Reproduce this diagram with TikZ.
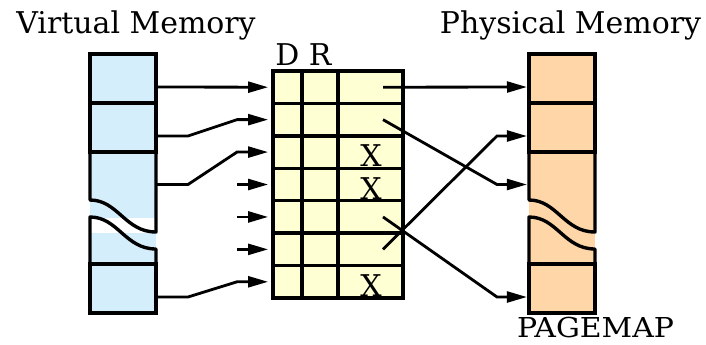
\documentclass[tikz,border=0pt]{standalone}
\usepackage{fontspec}
\setmainfont{DejaVu Serif}
\usetikzlibrary{%
	calc,%
	arrows.meta,%
	positioning,%
}
\definecolor{cvirt}{RGB}{213, 238, 252}
\definecolor{cphys}{RGB}{255, 214, 168}
\definecolor{cmap}{RGB}{255, 255, 212}
\newcommand{\pxu}{0.025cm}
\tikzset{
	>={Triangle[length=0.5cm,width=0.27cm]},%
	box/.style={%
			draw,%
			line width=2.4pt,%
			line join=round},%
	memcell/.style={%
			draw,%
			rectangle,%
			line width=2.4pt,%
			inner sep=0,%
			outer sep=0,%
			minimum width=66*\pxu,%
			minimum height=49*\pxu},%
	mapcell/.style={%
			draw,%
			rectangle,%
			fill=cmap,%
			line width=2.4pt,%
			inner sep=0,%
			outer sep=0,%
			minimum height=32.43*\pxu},%
	label/.style={%
			anchor=base,%
			inner sep=0,%
			outer sep=0},%
	arr/.style={%
			->,%
			line width=2pt,%
			shorten >=0.12cm},%
	arrin/.style={%
			->,%
			line width=2pt,%
			shorten >=0.05cm},%
}

\begin{document}
\begin{tikzpicture}[x=\pxu, y=-\pxu, nodes={font={\fontsize{21.3}{24}\selectfont}}]%
	\useasboundingbox (0,0) rectangle (706,344);

	% virtual memory
	\fill[cvirt] (90,54) rectangle (156,313);
	\fill[white] (90,218) rectangle (156,233);
	\node[memcell] (vm1) at (123,78.5) {};
	\node[memcell] (vm2) at (123,127.5) {};
	\node[memcell, draw=none] (vm3) at (123,176) {};
	\node[memcell, draw=none] (vm4) at (123,240) {};
	\node[memcell] (vm5) at (123,288.5) {};
	\draw[box] (vm3.north west) -- (90,200) .. controls (118,200) and (125,232) .. (156,232) -- (vm3.north east);
	\draw[box] (vm4.south west) -- (90,217) .. controls (118,217) and (125,249) .. (156,249) -- (vm4.south east);
	\node[label] (vmlabel) at (136,33) {Virtual Memory};

	% physical memory
	\fill[cphys] (529,54) rectangle (595,313);
	\node[memcell] (pm1) at (562,78.5) {};
	\node[memcell] (pm2) at (562,127.5) {};
	\node[memcell, draw=none] (pm3) at (562,176) {};
	\node[memcell, draw=none] (pm4) at (562,240) {};
	\node[memcell] (pm5) at (562,288.5) {};
	\draw[box] (pm3.north west) -- (529,200) .. controls (557,200) and (564,232) .. (595,232) -- (pm3.north east);
	\draw[box] (pm4.south west) -- (529,217) .. controls (557,217) and (564,249) .. (595,249) -- (pm4.south east);
	\node[label] (pmlabel) at (570.5,33) {Physical Memory};
	\node[label, xscale=1.09, font={\fontsize{19.5}{22}\selectfont}] (pagemap) at (595.5,337.5) {PAGEMAP};

	% page map
	\foreach \i in {1,...,7} {
		\node[mapcell, minimum width=29*\pxu] (d\i) at (287.5,{71+32.43*(\i-0.5)}) {};
		\node[mapcell, minimum width=36*\pxu] (r\i) at (320,{71+32.43*(\i-0.5)}) {};
		\node[mapcell, minimum width=65*\pxu] (pg\i) at (370.5,{71+32.43*(\i-0.5)}) {};
	}
	\node[label] (drlabel) at (303.5,65) {D R};
	\foreach \i in {3,4,7}
		\node[label] (x\i) at (371,{71+32.43*\i-1.5}) {X};

	\foreach \i in {1,2,3,5}
		\coordinate (vout\i) at ($(vm\i.east)+(0,8.5)$);
	\foreach \i in {1,2,3,5}
		\coordinate (pin\i) at ($(pm\i.west)+(0,8.5)$);

	% virtual to page map
	\draw[arr] (vout1) -- (d1.west);
	\draw[arr] (vout2) -- ++(32,0) -- ($(d2.west)+(-36,0)$) -- (d2.west);
	\draw[arr] (vout3) -- ++(32,0) -- ($(d3.west)+(-36,0)$) -- (d3.west);
	\foreach \i in {4,5,6}
		\draw[arr] ($(d\i.west)+(-36,0)$) -- (d\i.west);
	\draw[arr] (vout5) -- ++(32,0) -- ($(d7.west)+(-36,0)$) -- (d7.west);

	% page map to physical
	\draw[arrin] ($(pg1)+(12.5,0)$) -- (pin1);
	\draw[arrin] ($(pg2)+(12.5,0)$) -- ($(pin3)+(-32,0)$) -- (pin3);
	\draw[arrin] ($(pg5)+(12.5,0)$) -- ($(pin5)+(-32,0)$) -- (pin5);
	\draw[arrin] ($(pg6)+(12.5,0)$) -- ($(pin2)+(-32,0)$) -- (pin2);
\end{tikzpicture}
\end{document}
